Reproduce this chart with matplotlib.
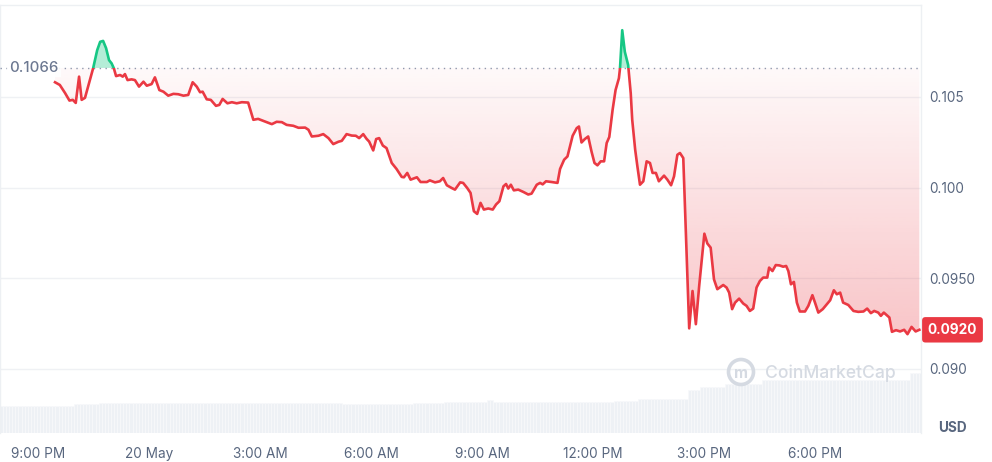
import numpy as np
import matplotlib
matplotlib.use("Agg")
import matplotlib.pyplot as plt
from matplotlib.patches import Rectangle, Circle
from matplotlib.path import Path
from matplotlib.transforms import IdentityTransform, blended_transform_factory

plt.rcParams['font.family'] = ['Inter', 'DejaVu Sans']

# ---------------- data ----------------
# hours since 9:00 PM (19 May)
hours = [0.46, 0.59, 0.73, 0.85, 0.94, 1.02, 1.11, 1.18, 1.27, 1.49,
         1.60, 1.68, 1.76, 1.84, 1.92, 1.99, 2.05, 2.11, 2.22, 2.29,
         2.35, 2.42, 2.53, 2.62, 2.73, 2.85, 2.94, 3.07, 3.16, 3.28,
         3.39, 3.52, 3.66, 3.79, 3.93, 4.06, 4.18, 4.29, 4.38, 4.45,
         4.56, 4.67, 4.81, 4.90, 4.99, 5.12, 5.24, 5.37, 5.51, 5.68,
         5.82, 5.95, 6.14, 6.32, 6.45, 6.59, 6.72, 6.90, 7.04, 7.22,
         7.31, 7.40, 7.58, 7.71, 7.85, 7.98, 8.12, 8.21, 8.34, 8.48,
         8.59, 8.68, 8.79, 8.88, 8.95, 9.06, 9.14, 9.22, 9.32, 9.42,
         9.56, 9.69, 9.83, 9.89, 9.98, 10.07, 10.24, 10.34, 10.51, 10.59,
         10.73, 10.86, 10.95, 11.05, 11.18, 11.27, 11.41, 11.49, 11.60, 11.69,
         11.78, 11.87, 11.96, 12.05, 12.17, 12.29, 12.38, 12.47, 12.58, 12.65,
         12.71, 12.78, 12.86, 12.98, 13.12, 13.25, 13.34, 13.48, 13.57, 13.64,
         13.73, 13.88, 14.04, 14.11, 14.22, 14.31, 14.45, 14.56, 14.62, 14.69,
         14.78, 14.87, 14.96, 15.04, 15.12, 15.21, 15.30, 15.37, 15.44, 15.53,
         15.61, 15.70, 15.73, 15.79, 15.86, 15.95, 16.02, 16.06, 16.14, 16.20,
         16.27, 16.36, 16.45, 16.54, 16.61, 16.70, 16.78, 16.92, 17.01, 17.11,
         17.19, 17.28, 17.35, 17.44, 17.60, 17.69, 17.78, 17.87, 18.01, 18.09,
         18.18, 18.27, 18.36, 18.52, 18.61, 18.68, 18.76, 18.84, 18.95, 19.06,
         19.15, 19.24, 19.33, 19.42, 19.51, 19.60, 19.71, 19.76, 19.85, 19.94,
         20.04, 20.14, 20.22, 20.28, 20.35, 20.43, 20.51, 20.59, 20.73, 20.82,
         20.93, 21.00, 21.09, 21.21, 21.32, 21.41, 21.51, 21.59, 21.68, 21.76,
         21.90, 22.04, 22.17, 22.31, 22.41, 22.51, 22.60, 22.71, 22.78, 22.86,
         23.01, 23.08, 23.19, 23.30, 23.41, 23.50, 23.61, 23.72, 23.82]

prices = [0.10581, 0.10566, 0.10522, 0.10480, 0.10484, 0.10467, 0.10612, 0.10484, 0.10495, 0.10658,
          0.10758, 0.10804, 0.10809, 0.10769, 0.10703, 0.10685, 0.10658, 0.10615, 0.10621, 0.10612,
          0.10626, 0.10593, 0.10597, 0.10593, 0.10557, 0.10584, 0.10562, 0.10571, 0.10608, 0.10538,
          0.10529, 0.10507, 0.10517, 0.10515, 0.10507, 0.10511, 0.10581, 0.10557, 0.10526, 0.10529,
          0.10487, 0.10484, 0.10451, 0.10456, 0.10489, 0.10465, 0.10471, 0.10465, 0.10471, 0.10469,
          0.10374, 0.10379, 0.10364, 0.10350, 0.10363, 0.10361, 0.10346, 0.10341, 0.10330, 0.10331,
          0.10319, 0.10282, 0.10286, 0.10295, 0.10273, 0.10240, 0.10253, 0.10258, 0.10295, 0.10287,
          0.10286, 0.10273, 0.10295, 0.10269, 0.10254, 0.10205, 0.10268, 0.10273, 0.10232, 0.10218,
          0.10136, 0.10103, 0.10059, 0.10057, 0.10081, 0.10044, 0.10057, 0.10031, 0.10031, 0.10040,
          0.10029, 0.10035, 0.10053, 0.10013, 0.09998, 0.09989, 0.10029, 0.10026, 0.09998, 0.09971,
          0.09870, 0.09855, 0.09916, 0.09879, 0.09885, 0.09879, 0.09907, 0.09925, 0.10007, 0.10020,
          0.09995, 0.10016, 0.09985, 0.09989, 0.09976, 0.09962, 0.09967, 0.10016, 0.10026, 0.10018,
          0.10035, 0.10031, 0.10026, 0.10103, 0.10154, 0.10172, 0.10286, 0.10328, 0.10337, 0.10249,
          0.10268, 0.10282, 0.10199, 0.10136, 0.10123, 0.10145, 0.10145, 0.10246, 0.10279, 0.10429,
          0.10538, 0.10603, 0.10658, 0.10868, 0.10749, 0.10676, 0.10520, 0.10374, 0.10209, 0.10117,
          0.10016, 0.10035, 0.10145, 0.10136, 0.10081, 0.10081, 0.10035, 0.10066, 0.10044, 0.10013,
          0.10062, 0.10181, 0.10191, 0.10163, 0.09224, 0.09430, 0.09247, 0.09458, 0.09746, 0.09692,
          0.09669, 0.09494, 0.09440, 0.09463, 0.09449, 0.09421, 0.09330, 0.09366, 0.09388, 0.09361,
          0.09348, 0.09320, 0.09333, 0.09449, 0.09485, 0.09504, 0.09504, 0.09559, 0.09540, 0.09573,
          0.09571, 0.09564, 0.09568, 0.09540, 0.09467, 0.09480, 0.09366, 0.09317, 0.09317, 0.09348,
          0.09407, 0.09366, 0.09311, 0.09330, 0.09357, 0.09379, 0.09434, 0.09412, 0.09421, 0.09366,
          0.09353, 0.09320, 0.09315, 0.09317, 0.09333, 0.09308, 0.09320, 0.09311, 0.09293, 0.09311,
          0.09284, 0.09205, 0.09214, 0.09207, 0.09216, 0.09192, 0.09232, 0.09207, 0.09216]

baseline_price = 0.1066
last_price_label = "0.0920"

# volume (millions, arbitrary scale) - piecewise levels ending at given hour
vol_seg_end = [0.95, 1.62, 8.24, 10.14, 11.0, 12.11, 12.30, 15.54, 16.24, 17.54,
               17.86, 18.57, 19.59, 23.54, 23.90]
vol_levels = [2.73, 2.90, 3.03, 2.90, 3.03, 3.13, 3.27, 3.13, 3.23, 3.43,
              4.30, 4.63, 4.87, 5.30, 5.97]

tick_hours = [0, 3, 6, 9, 12, 15, 18, 21]
tick_labels = ['9:00 PM', '20 May', '3:00 AM', '6:00 AM', '9:00 AM', '12:00 PM', '3:00 PM', '6:00 PM']
ytick_vals = [0.090, 0.095, 0.100, 0.105]
ytick_labels = ['0.090', '0.0950', '0.100', '0.105']

# ---------------- styling ----------------
RED = '#ea3943'
GREEN = '#16c784'
GRID = '#eff1f4'
TXT = '#58667e'

W, H = 992, 462
fig = plt.figure(figsize=(W / 100, H / 100), dpi=100)
fig.patch.set_facecolor('white')

left, right_px, top_px, bot_px = 0, 921, 5, 433
ax_rect = [left / W, 1 - bot_px / H, (right_px - left) / W, (bot_px - top_px) / H]

x_min, x_max = -1.027, 23.865
y_min, y_max = 0.08647, 0.11007

# volume axes (behind)
axv = fig.add_axes(ax_rect, zorder=0)
axv.set_xlim(x_min, x_max)
axv.set_ylim(0, 42.8)
axv.axis('off')
bar_w = 1 / 12
bar_t = np.arange(x_min + bar_w / 2, x_max, bar_w)
idx = np.clip(np.searchsorted(vol_seg_end, bar_t), 0, len(vol_levels) - 1)
bar_v = np.array(vol_levels)[idx]
axv.bar(bar_t, bar_v, width=bar_w, color='#eef1f5', edgecolor='#f8f9fb', linewidth=0.5)

ax = fig.add_axes(ax_rect, zorder=1)
ax.patch.set_alpha(0)
ax.set_xlim(x_min, x_max)
ax.set_ylim(y_min, y_max)

t = np.array(hours)
p = np.array(prices)

# grid
for yv in ytick_vals:
    ax.axhline(yv, color=GRID, lw=1, zorder=1)

# red gradient fill (between line and baseline, below baseline)
red_poly = ax.fill_between(t, p, baseline_price, where=p <= baseline_price,
                           interpolate=True, color='none', lw=0)
clip = Path.make_compound_path(*red_poly.get_paths())
rgba_red = np.zeros((256, 1, 4))
rgba_red[..., 0] = 234 / 255
rgba_red[..., 1] = 57 / 255
rgba_red[..., 2] = 67 / 255
rgba_red[:, 0, 3] = np.linspace(0.30, 0.03, 256)  # bottom -> top
img = ax.imshow(rgba_red, extent=[x_min, x_max, 0.0915, baseline_price], origin='lower',
                aspect='auto', zorder=2, interpolation='bilinear')
img.set_clip_path(clip, transform=ax.transData)
ax.set_xlim(x_min, x_max)
ax.set_ylim(y_min, y_max)

# green fill (above baseline)
ax.fill_between(t, p, baseline_price, where=p >= baseline_price, interpolate=True,
                color=GREEN, alpha=0.32, lw=0, zorder=2)

# baseline dotted line
ax.axhline(baseline_price, color='#8f98ad', lw=1.0, linestyle=(0, (1, 3.2)), zorder=3)

# price line split by baseline
below = Rectangle((x_min, y_min), x_max - x_min, baseline_price - y_min, transform=ax.transData,
                  visible=False)
above = Rectangle((x_min, baseline_price), x_max - x_min, y_max - baseline_price,
                  transform=ax.transData, visible=False)
ax.add_patch(below)
ax.add_patch(above)
lr, = ax.plot(t, p, color=RED, lw=1.9, zorder=4, solid_joinstyle='round')
lr.set_clip_path(below)
lg, = ax.plot(t, p, color=GREEN, lw=1.9, zorder=4, solid_joinstyle='round')
lg.set_clip_path(above)

# frame
for s in ['left', 'top', 'right']:
    ax.spines[s].set_color('#edf0f3')
    ax.spines[s].set_linewidth(1)
ax.spines['bottom'].set_visible(False)

ax.set_xticks(tick_hours)
ax.set_xticklabels(tick_labels, fontsize=9.8, color=TXT)
ax.tick_params(axis='x', length=0, pad=10)
ax.yaxis.tick_right()
ax.set_yticks(ytick_vals)
ax.set_yticklabels(ytick_labels, fontsize=9.8, color=TXT)
ax.tick_params(axis='y', length=0, pad=6)

# baseline label
ax.text(x_min + 0.24, baseline_price, '0.1066', fontsize=10.8, color='#6c7891', va='center',
        ha='left', zorder=6, fontweight='medium',
        bbox=dict(boxstyle='square,pad=0.15', fc='white', ec='none', alpha=0.9))

# last price tag
tr = blended_transform_factory(fig.transFigure, ax.transData)
fig.text(952.5 / W, prices[-1], last_price_label, transform=tr, fontsize=9.8, color='white',
         fontweight='bold', ha='center', va='center',
         bbox=dict(boxstyle='round,pad=0.42,rounding_size=0.25', fc=RED, ec='none'))

# USD label
fig.text(952 / W, 1 - 428 / H, 'USD', fontsize=9.8, color=TXT, fontweight='bold',
         ha='center', va='center')

# watermark
wm_col = '#d5dae2'
fig.add_artist(Circle((741, H - 372), 12.5, transform=IdentityTransform(), fill=False,
                      ec=wm_col, lw=2.6, zorder=5))
fig.text(765 / W, 1 - 373 / H, 'CoinMarketCap', fontsize=12.6, color=wm_col,
         ha='left', va='center', fontweight='medium', zorder=5)
fig.text(741 / W, 1 - 373 / H, 'm', fontsize=11, color=wm_col, ha='center', va='center',
         fontweight='bold', zorder=5)

fig.savefig('out.png', dpi=100, facecolor='white')
